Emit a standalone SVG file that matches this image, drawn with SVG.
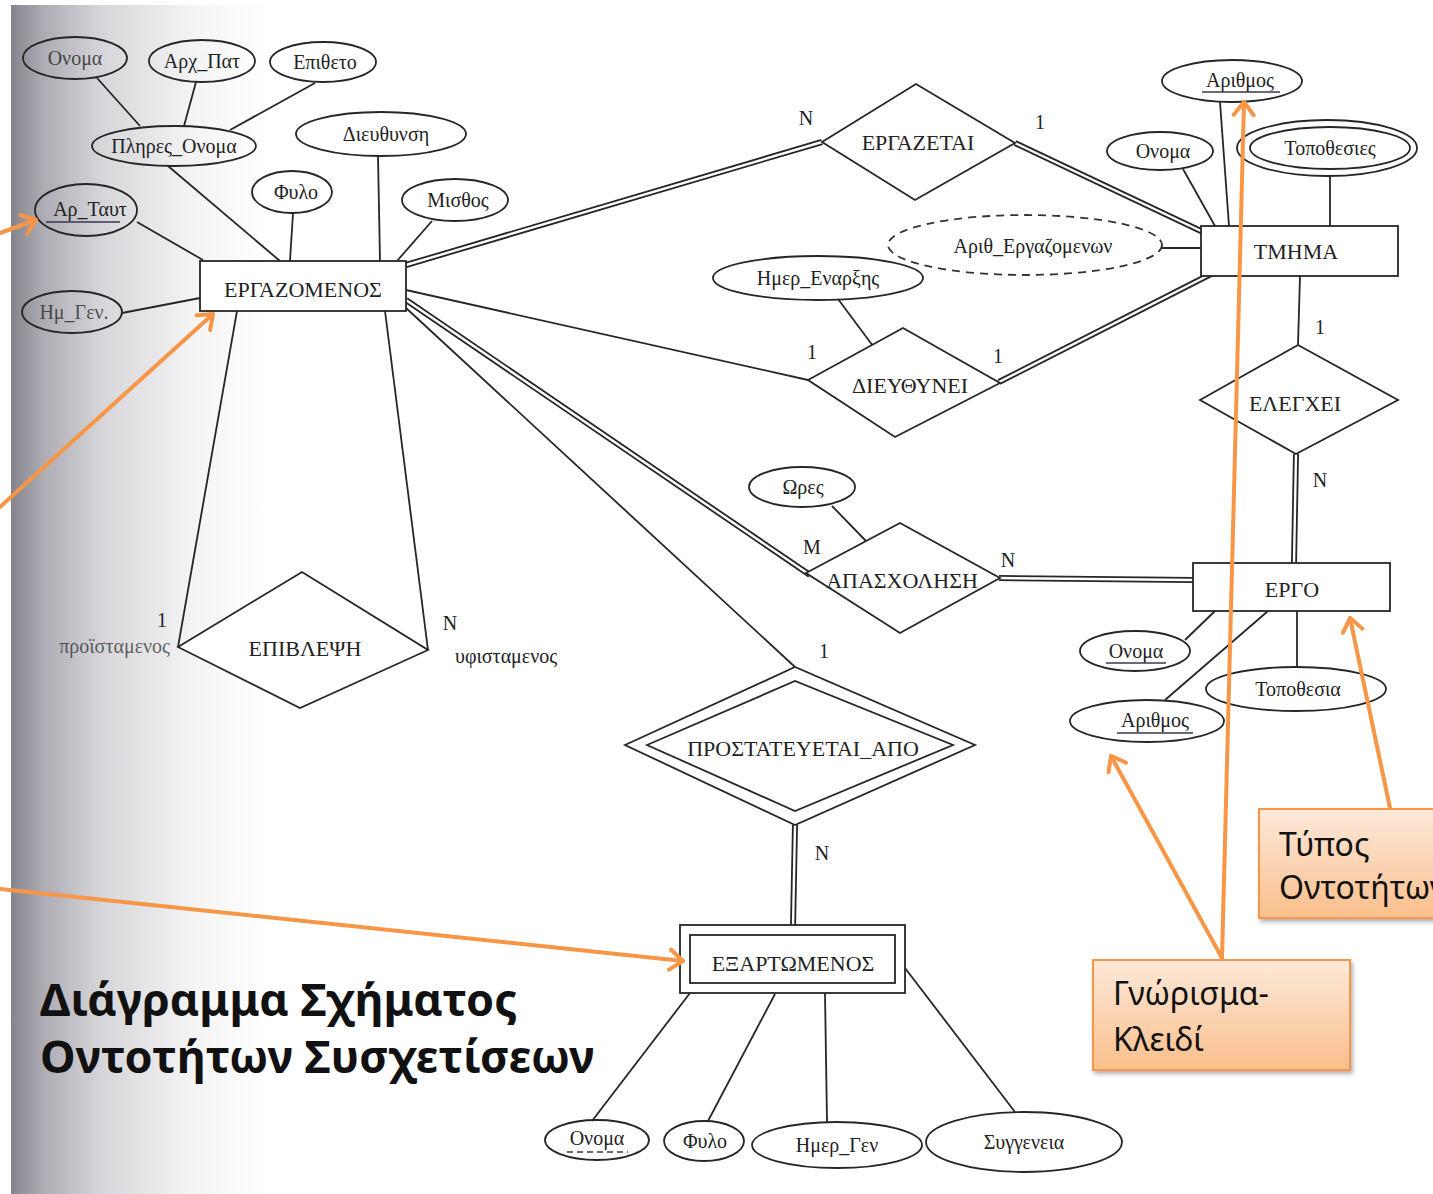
<svg xmlns="http://www.w3.org/2000/svg" width="1433" height="1194" viewBox="0 0 1433 1194">
<defs>
  <linearGradient id="spine" x1="0" y1="0" x2="1" y2="0">
    <stop offset="0" stop-color="#85838d"/>
    <stop offset="0.12" stop-color="#acabb2"/>
    <stop offset="0.35" stop-color="#d6d6da"/>
    <stop offset="0.7" stop-color="#f4f4f5"/>
    <stop offset="1" stop-color="#ffffff"/>
  </linearGradient>
  <linearGradient id="note" x1="0" y1="0" x2="0" y2="1">
    <stop offset="0" stop-color="#fde9da"/>
    <stop offset="1" stop-color="#f9bf8c"/>
  </linearGradient>
  <marker id="chev" markerUnits="userSpaceOnUse" markerWidth="30" markerHeight="30" refX="15" refY="12" orient="auto" viewBox="0 0 30 24">
    <path d="M2,2 L15,12 L2,22" fill="none" stroke="#f79646" stroke-width="4" stroke-linecap="round" stroke-linejoin="round"/>
  </marker>
  <filter id="sh" x="-10%" y="-10%" width="130%" height="140%">
    <feDropShadow dx="2" dy="3" stdDeviation="2" flood-color="#000" flood-opacity="0.3"/>
  </filter>
</defs>
<style>
  .ln{stroke:#262626;stroke-width:1.8;fill:none}
  .dbo{stroke:#262626;stroke-width:6;fill:none}
  .dbi{stroke:#ffffff;stroke-width:2.4;fill:none}
  .att{stroke:#262626;stroke-width:1.8;fill:none}
  .ent{stroke:#262626;stroke-width:1.8;fill:#fff}
  .dash{stroke:#333;stroke-width:1.8;fill:none;stroke-dasharray:8 6}
  .t{font-family:"Liberation Serif","DejaVu Serif",serif;font-size:20px;fill:#222;text-anchor:middle;dominant-baseline:central}
  .te{font-family:"Liberation Serif","DejaVu Serif",serif;font-size:22px;fill:#222;text-anchor:middle;dominant-baseline:central}
  .c{font-family:"Liberation Serif","DejaVu Serif",serif;font-size:20px;fill:#222;text-anchor:middle;dominant-baseline:central}
  .ul{stroke:#3a3550;stroke-width:1.5}
  .or{stroke:#f79646;stroke-width:4;fill:none;stroke-linecap:round}
  .nb{fill:url(#note);stroke:#f79646;stroke-width:2}
  .nt{font-family:"Noto Sans","Open Sans","DejaVu Sans",sans-serif;font-size:32px;fill:#111}
  .title{font-family:"Noto Sans","Open Sans","DejaVu Sans",sans-serif;font-size:45px;font-weight:bold;fill:#111}
</style>

<rect x="0" y="0" width="1433" height="1194" fill="#ffffff"/>
<rect x="11" y="5" width="260" height="1189" fill="url(#spine)"/>

<g id="connectors">
  <!-- ΕΡΓΑΖΟΜΕΝΟΣ attributes -->
  <line class="ln" x1="97" y1="78" x2="140" y2="126"/>
  <line class="ln" x1="196" y1="82" x2="184" y2="126"/>
  <line class="ln" x1="315" y1="83" x2="230" y2="130"/>
  <line class="ln" x1="168" y1="166" x2="280" y2="261"/>
  <line class="ln" x1="378" y1="156" x2="380" y2="261"/>
  <line class="ln" x1="293" y1="213" x2="290" y2="261"/>
  <line class="ln" x1="432" y1="221" x2="397" y2="261"/>
  <line class="ln" x1="137" y1="222" x2="203" y2="260"/>
  <line class="ln" x1="122" y1="313" x2="200" y2="298"/>
  <!-- ΕΠΙΒΛΕΨΗ -->
  <line class="ln" x1="237" y1="311" x2="178" y2="647"/>
  <line class="ln" x1="385" y1="311" x2="428" y2="650"/>
  <!-- ΕΡΓΑΖΕΤΑΙ -->
  <line class="dbo" x1="406" y1="265" x2="822" y2="142"/>
  <line class="dbi" x1="406" y1="265" x2="822" y2="142"/>
  <line class="dbo" x1="1015" y1="143" x2="1203" y2="232"/>
  <line class="dbi" x1="1015" y1="143" x2="1203" y2="232"/>
  <!-- ΔΙΕΥΘΥΝΕΙ -->
  <line class="ln" x1="406" y1="290" x2="808" y2="380"/>
  <line class="dbo" x1="999" y1="382" x2="1213" y2="273"/>
  <line class="dbi" x1="999" y1="382" x2="1213" y2="273"/>
  <line class="ln" x1="838" y1="299" x2="873" y2="346"/>
  <!-- ΤΜΗΜΑ attributes -->
  <line class="ln" x1="1162" y1="248" x2="1201" y2="248"/>
  <line class="ln" x1="1220" y1="102" x2="1229" y2="226"/>
  <line class="ln" x1="1183" y1="169" x2="1215" y2="226"/>
  <line class="ln" x1="1330" y1="176" x2="1330" y2="226"/>
  <!-- ΕΛΕΓΧΕΙ -->
  <line class="ln" x1="1300" y1="276" x2="1298" y2="345"/>
  <line class="dbo" x1="1296" y1="454" x2="1294" y2="563"/>
  <line class="dbi" x1="1296" y1="454" x2="1294" y2="563"/>
  <!-- ΑΠΑΣΧΟΛΗΣΗ -->
  <line class="dbo" x1="406" y1="300" x2="810" y2="575"/>
  <line class="dbi" x1="406" y1="300" x2="810" y2="575"/>
  <line class="dbo" x1="999" y1="578" x2="1193" y2="580"/>
  <line class="dbi" x1="999" y1="578" x2="1193" y2="580"/>
  <line class="ln" x1="832" y1="506" x2="866" y2="541"/>
  <!-- ΕΡΓΟ attributes -->
  <line class="ln" x1="1185" y1="640" x2="1215" y2="611"/>
  <line class="ln" x1="1165" y1="700" x2="1268" y2="611"/>
  <line class="ln" x1="1297" y1="667" x2="1297" y2="611"/>
  <!-- ΠΡΟΣΤΑΤΕΥΕΤΑΙ_ΑΠΟ -->
  <line class="ln" x1="406" y1="308" x2="795" y2="667"/>
  <line class="dbo" x1="795" y1="825" x2="793" y2="927"/>
  <line class="dbi" x1="795" y1="825" x2="793" y2="927"/>
  <!-- ΕΞΑΡΤΩΜΕΝΟΣ attributes -->
  <line class="ln" x1="690" y1="993" x2="592" y2="1121"/>
  <line class="ln" x1="775" y1="994" x2="708" y2="1121"/>
  <line class="ln" x1="825" y1="993" x2="827" y2="1122"/>
  <line class="ln" x1="905" y1="968" x2="1015" y2="1112"/>
</g>

<g id="n-ergazomenos"><rect class="ent" x="200" y="261" width="206" height="50"/><text class="te" x="303" y="289">ΕΡΓΑΖΟΜΕΝΟΣ</text></g>
<g id="a-onoma1"><ellipse class="att" cx="75" cy="58" rx="52" ry="21"/><text class="t" x="75" y="58" fill-opacity="0.8">Ονομα</text></g>
<g id="a-arxpat"><ellipse class="att" cx="202" cy="61" rx="53" ry="21"/><text class="t" x="202" y="61">Αρχ_Πατ</text></g>
<g id="a-epitheto"><ellipse class="att" cx="323" cy="62" rx="53" ry="20"/><text class="t" x="325" y="62">Επιθετο</text></g>
<g id="a-plires"><ellipse class="att" cx="174" cy="146" rx="82" ry="20"/><text class="t" x="174" y="146">Πληρες_Ονομα</text></g>
<g id="a-dieuthinsi"><ellipse class="att" cx="381" cy="134" rx="85" ry="22"/><text class="t" x="386" y="134">Διευθυνση</text></g>
<g id="a-fylo1"><ellipse class="att" cx="292" cy="192" rx="40" ry="21"/><text class="t" x="296" y="192">Φυλο</text></g>
<g id="a-misthos"><ellipse class="att" cx="455" cy="200" rx="53" ry="21"/><text class="t" x="458" y="200">Μισθος</text></g>
<g id="a-artaut"><ellipse class="att" cx="86" cy="210" rx="51" ry="26"/><text class="t" x="90" y="209">Αρ_Ταυτ</text><line class="ul" x1="46" y1="222" x2="120" y2="222"/></g>
<g id="a-imgen"><ellipse class="att" cx="72" cy="312" rx="50" ry="21"/><text class="t" x="74" y="312" fill-opacity="0.75">Ημ_Γεν.</text></g>

<g id="n-ergazetai"><polygon class="ent" points="822,142 916,84 1015,143 915,200"/><text class="te" x="918" y="142">ΕΡΓΑΖΕΤΑΙ</text><text class="c" x="806" y="118">N</text><text class="c" x="1040" y="122">1</text></g>

<g id="a-arith-erg"><ellipse class="dash" cx="1025" cy="245" rx="137" ry="30"/><text class="t" x="1033" y="246">Αριθ_Εργαζομενων</text></g>
<g id="a-imer-enarxis"><ellipse class="att" cx="818" cy="278" rx="105" ry="22"/><text class="t" x="818" y="278">Ημερ_Εναρξης</text></g>
<g id="n-dieuthynei"><polygon class="ent" points="808,380 903,328 1000,383 895,437"/><text class="te" x="910" y="385">ΔΙΕΥΘΥΝΕΙ</text><text class="c" x="812" y="352">1</text><text class="c" x="998" y="356">1</text></g>

<g id="n-tmima"><rect class="ent" x="1201" y="226" width="197" height="50"/><text class="te" x="1296" y="251">ΤΜΗΜΑ</text></g>
<g id="a-arithmos1"><ellipse class="att" cx="1232" cy="81" rx="70" ry="21"/><text class="t" x="1240" y="80">Αριθμος</text><line class="ul" x1="1202" y1="92" x2="1280" y2="92"/></g>
<g id="a-onoma2"><ellipse class="att" cx="1160" cy="151" rx="53" ry="19"/><text class="t" x="1163" y="151">Ονομα</text></g>
<g id="a-topothesies"><ellipse class="att" cx="1327" cy="148" rx="90" ry="28"/><ellipse class="att" cx="1330" cy="148" rx="80" ry="21"/><text class="t" x="1330" y="148">Τοποθεσιες</text></g>

<g id="n-elegxei"><polygon class="ent" points="1200,400 1298,345 1398,400 1296,454"/><text class="te" x="1295" y="403">ΕΛΕΓΧΕΙ</text><text class="c" x="1320" y="327">1</text><text class="c" x="1320" y="480">N</text></g>

<g id="n-ergo"><rect class="ent" x="1193" y="563" width="197" height="48"/><text class="te" x="1292" y="589">ΕΡΓΟ</text></g>
<g id="a-onoma3"><ellipse class="att" cx="1135" cy="651" rx="55" ry="20"/><text class="t" x="1136" y="651">Ονομα</text><line class="ul" x1="1106" y1="663" x2="1166" y2="663"/></g>
<g id="a-arithmos2"><ellipse class="att" cx="1147" cy="721" rx="77" ry="21"/><text class="t" x="1155" y="720">Αριθμος</text><line class="ul" x1="1117" y1="733" x2="1193" y2="733"/></g>
<g id="a-topothesia"><ellipse class="att" cx="1296" cy="689" rx="90" ry="22"/><text class="t" x="1298" y="689">Τοποθεσια</text></g>

<g id="a-ores"><ellipse class="att" cx="802" cy="487" rx="53" ry="20"/><text class="t" x="803" y="487">Ωρες</text></g>
<g id="n-apasxolisi"><polygon class="ent" points="806,573 900,523 1000,578 900,633"/><text class="te" x="902" y="580">ΑΠΑΣΧΟΛΗΣΗ</text><text class="c" x="812" y="547">M</text><text class="c" x="1008" y="560">N</text></g>

<g id="n-epivlepsi"><polygon class="ent" points="178,647 302,572 428,650 300,708"/><text class="te" x="305" y="648">ΕΠΙΒΛΕΨΗ</text><text class="c" x="162" y="620">1</text><text class="t" x="170" y="646" style="text-anchor:end" fill-opacity="0.7">προϊσταμενος</text><text class="c" x="450" y="623">N</text><text class="t" x="455" y="656" style="text-anchor:start">υφισταμενος</text></g>

<g id="n-prostateuetai"><polygon class="ent" points="625,745 795,667 975,745 795,825"/><polygon class="att" points="647,745 795,681 953,745 795,811"/><text class="te" x="803" y="748">ΠΡΟΣΤΑΤΕΥΕΤΑΙ_ΑΠΟ</text><text class="c" x="824" y="651">1</text><text class="c" x="822" y="853">N</text></g>

<g id="n-exartomenos"><rect class="ent" x="680" y="925" width="225" height="68"/><rect class="att" x="690" y="935" width="205" height="48"/><text class="te" x="793" y="963">ΕΞΑΡΤΩΜΕΝΟΣ</text></g>
<g id="a-onoma4"><ellipse class="att" cx="597" cy="1140" rx="52" ry="20"/><text class="t" x="597" y="1138">Ονομα</text><line class="ul" x1="567" y1="1152" x2="628" y2="1152" stroke-dasharray="6 4"/></g>
<g id="a-fylo2"><ellipse class="att" cx="704" cy="1141" rx="40" ry="20"/><text class="t" x="705" y="1141">Φυλο</text></g>
<g id="a-imergen"><ellipse class="att" cx="837" cy="1145" rx="85" ry="23"/><text class="t" x="837" y="1145">Ημερ_Γεν</text></g>
<g id="a-syggeneia"><ellipse class="att" cx="1024" cy="1142" rx="98" ry="30"/><text class="t" x="1024" y="1142">Συγγενεια</text></g>

<g id="title"><text class="title" x="40" y="1016">Διάγραμμα Σχήματος</text><text class="title" x="40" y="1073">Οντοτήτων Συσχετίσεων</text></g>

<g id="note-typos"><rect class="nb" x="1259" y="809" width="200" height="109" filter="url(#sh)"/><text class="nt" x="1279" y="856">Τύπος</text><text class="nt" x="1279" y="899">Οντοτήτων</text></g>
<g id="note-key"><rect class="nb" x="1093" y="960" width="257" height="110" filter="url(#sh)"/><text class="nt" x="1113" y="1005">Γνώρισμα-</text><text class="nt" x="1113" y="1051">Κλειδί</text></g>

<g id="annotations">
  <line class="or" x1="0" y1="233" x2="36" y2="220" marker-end="url(#chev)"/>
  <line class="or" x1="0" y1="507" x2="213" y2="314" marker-end="url(#chev)"/>
  <line class="or" x1="0" y1="889" x2="683" y2="961" marker-end="url(#chev)"/>
  <line class="or" x1="1222" y1="958" x2="1111" y2="756" marker-end="url(#chev)"/>
  <line class="or" x1="1222" y1="958" x2="1244" y2="102" marker-end="url(#chev)"/>
  <line class="or" x1="1390" y1="808" x2="1350" y2="618" marker-end="url(#chev)"/>
</g>
</svg>
